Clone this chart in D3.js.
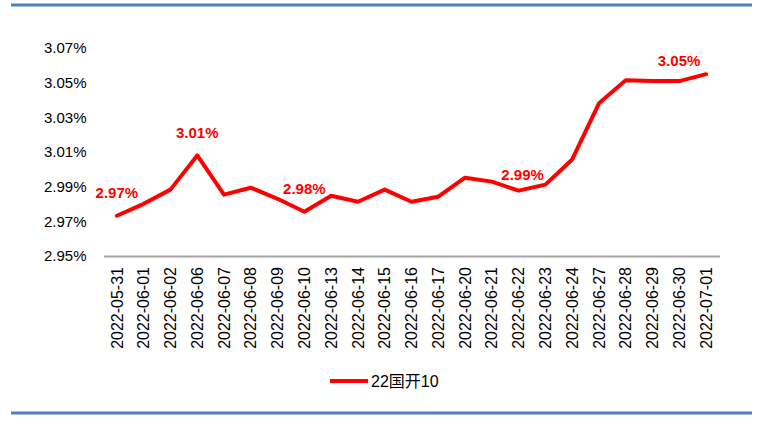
<!DOCTYPE html>
<html>
<head>
<meta charset="utf-8">
<script src="https://cdn.jsdelivr.net/npm/d3@7"></script>
<style>
  html, body { margin: 0; padding: 0; background: #fff; }
  svg { display: block; }
</style>
</head>
<body>
<svg id="chart" width="782" height="425"></svg>
<script>
const dates = ["2022-05-31","2022-06-01","2022-06-02","2022-06-06","2022-06-07","2022-06-08","2022-06-09","2022-06-10","2022-06-13","2022-06-14","2022-06-15","2022-06-16","2022-06-17","2022-06-20","2022-06-21","2022-06-22","2022-06-23","2022-06-24","2022-06-27","2022-06-28","2022-06-29","2022-06-30","2022-07-01"];
const yields = [2.9732,2.9801,2.9883,3.0080,2.9854,2.9894,2.9830,2.9755,2.9848,2.9813,2.9883,2.9813,2.9842,2.9952,2.9929,2.9877,2.9912,3.0057,3.0381,3.0514,3.0509,3.0509,3.0549];
const seriesName = "22国开10";
const yTicks = [2.95,2.97,2.99,3.01,3.03,3.05,3.07];
const labeledIndex = [0,3,7,15,22];

const svg = d3.select("#chart");
const plotL = 103.5, plotR = 719.5, plotT = 48, plotB = 256;

const x = d3.scaleBand().domain(dates).range([plotL, plotR]);
const y = d3.scaleLinear().domain([2.95, 3.07]).range([plotB, plotT]);
const fmt = d3.format(".2f");

// top & bottom blue rules
svg.append("line").attr("x1", 11).attr("x2", 752).attr("y1", 5).attr("y2", 5)
  .attr("stroke", "#4f81bd").attr("stroke-width", 3);
svg.append("line").attr("x1", 11).attr("x2", 752).attr("y1", 413).attr("y2", 413)
  .attr("stroke", "#4f81bd").attr("stroke-width", 3);

// y axis labels
const yAxis = svg.append("g").attr("transform", `translate(${plotL},0)`)
  .call(d3.axisLeft(y).tickValues(yTicks).tickSize(0).tickPadding(17).tickFormat(d => fmt(d) + "%"));
yAxis.select(".domain").remove();
yAxis.selectAll("text").attr("font-family", "'Liberation Sans', Arial, sans-serif")
  .attr("font-size", 15).attr("fill", "#000");

// x axis
const xAxis = svg.append("g").attr("transform", `translate(0,${plotB})`)
  .call(d3.axisBottom(x).tickSize(0).tickPadding(0));
xAxis.select(".domain").attr("stroke", "#a6a6a6").attr("stroke-width", 2);
xAxis.selectAll("text")
  .attr("font-family", "'Liberation Sans', Arial, sans-serif")
  .attr("font-size", 16).attr("fill", "#000")
  .attr("text-anchor", "end")
  .attr("transform", "rotate(-90)")
  .attr("x", -11).attr("y", 0).attr("dy", "0.35em");

// line
const line = d3.line().x((d, i) => x(dates[i]) + x.bandwidth() / 2).y(d => y(d));
svg.append("path").datum(yields).attr("d", line)
  .attr("fill", "none").attr("stroke", "#ff0000").attr("stroke-width", 4)
  .attr("stroke-linejoin", "round").attr("stroke-linecap", "round");

// data labels
const labelShift = {15: [4, -16], 22: [-27, -14]};
svg.append("g").selectAll("text").data(labeledIndex).join("text")
  .attr("x", i => x(dates[i]) + x.bandwidth() / 2 + (labelShift[i] ? labelShift[i][0] : 0))
  .attr("y", i => y(yields[i]) + (labelShift[i] ? labelShift[i][1] : -23))
  .attr("dominant-baseline", "central")
  .attr("text-anchor", "middle")
  .attr("font-family", "'Liberation Sans', Arial, sans-serif")
  .attr("font-size", 15).attr("font-weight", "bold").attr("fill", "#ff0000")
  .text(i => fmt(yields[i]) + "%");

// legend
const lg = svg.append("g").attr("transform", "translate(330,381)");
lg.append("line").attr("x1", 0).attr("x2", 38).attr("y1", 0).attr("y2", 0)
  .attr("stroke", "#ff0000").attr("stroke-width", 4);
lg.append("text").attr("x", 41).attr("y", 0).attr("dominant-baseline", "central")
  .attr("font-family", "'Liberation Sans', 'Noto Sans CJK SC', sans-serif")
  .attr("font-size", 16).attr("fill", "#000").text(seriesName);
</script>
</body>
</html>
